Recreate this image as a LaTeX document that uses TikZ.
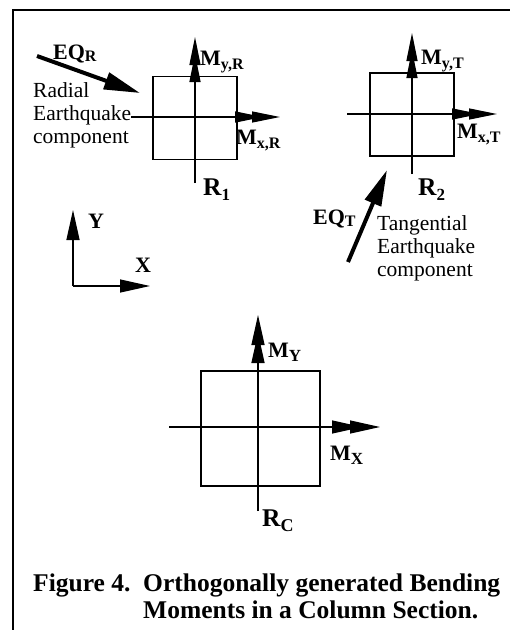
\documentclass[tikz,border=0pt]{standalone}
\usepackage{fontspec}
\setmainfont{Liberation Serif}
\usetikzlibrary{arrows.meta}
\newcommand{\lowered}[3]{\raisebox{-#2}{\fontsize{#1}{#1}\selectfont #3}}
\begin{document}
\begin{tikzpicture}[x=1pt,y=-1pt,
  frame/.style={line width=2pt},
  sect/.style={draw, line width=1.4pt, inner sep=0pt},
  mom/.style={line width=1.3pt,-{Triangle[length=28pt,width=11pt,sep=-11pt]Triangle[length=28pt,width=11pt]}},
  momb/.style={line width=1.3pt,-{Triangle[length=30pt,width=13pt,sep=-12pt]Triangle[length=30pt,width=13pt]}},
  quake/.style={line width=4pt,-{Triangle[length=36pt,width=17pt]}},
  axis/.style={line width=1.3pt,-{Triangle[length=30pt,width=13pt]}},
  lbl/.style={inner sep=0pt, anchor=base west, font=\bfseries\fontsize{22}{24}\selectfont},
  big/.style={inner sep=0pt, anchor=base west, font=\bfseries\fontsize{25.5}{27}\selectfont},
  note/.style={inner sep=0pt, anchor=base west, font=\fontsize{21.5}{23}\selectfont}]
\useasboundingbox (0,0) rectangle (510,630);
% frame
\coordinate (fbl) at (13,631);
\coordinate (ftl) at (13,10);
\coordinate (ftr) at (511,10);
\draw[frame] (fbl) -- (ftl) -- (ftr);
% ---- R1 (radial)
\node[sect, minimum width=84pt, minimum height=83pt] (s1) at (195,118) {};
\node[note] (rad1) at (33,97) {Radial};
\node[note] (rad2) at (33,120) {Earthquake};
\node[note] (rad3) at (33,143) {component};
\coordinate (v1b) at (195,183);
\coordinate (v1t) at (195,37);
\coordinate (h1r) at (280,117);
\draw[mom] (v1b) -- (v1t);
\draw[mom] (rad2.east |- h1r) -- (h1r);
\node[lbl] (myr) at (200,65) {M\lowered{16}{4pt}{y,R}};
\node[lbl] (mxr) at (236,144) {M\lowered{16}{4pt}{x,R}};
\node[big] (r1) at (203,195) {R\lowered{17}{5pt}{1}};
\node[lbl] (eqr) at (53,59) {EQ\lowered{16}{2pt}{R}};
\coordinate (eqrs) at (37,56);
\coordinate (eqre) at (140,93);
\draw[quake] (eqrs) -- (eqre);
% ---- R2 (tangential)
\node[sect, minimum width=84pt, minimum height=83pt] (s2) at (412,114.5) {};
\coordinate (v2b) at (412,174);
\coordinate (v2t) at (412,33);
\coordinate (h2l) at (347,114);
\coordinate (h2r) at (497,114);
\draw[mom] (v2b) -- (v2t);
\draw[mom] (h2l) -- (h2r);
\node[lbl] (myt) at (421,64) {M\lowered{16}{4pt}{y,T}};
\node[lbl] (mxt) at (457,138) {M\lowered{16}{4pt}{x,T}};
\node[big] (r2) at (418,195) {R\lowered{17}{5pt}{2}};
\node[lbl] (eqt) at (313,224) {EQ\lowered{16}{2pt}{T}};
\node[note] (tan1) at (377,230) {Tangential};
\node[note] (tan2) at (377,253) {Earthquake};
\node[note] (tan3) at (377,276) {component};
\coordinate (eqts) at (348,262);
\coordinate (eqte) at (387,170);
\draw[quake] (eqts) -- (eqte);
% ---- axes
\coordinate (o) at (73,286);
\coordinate (yt) at (73,210);
\coordinate (xt) at (150,286);
\draw[axis] (o) -- (yt);
\draw[axis] (o) -- (xt);
\node[lbl] (ylab) at (88,228) {Y};
\node[lbl] (xlab) at (135,272) {X};
% ---- RC (combined)
\node[sect, minimum width=119pt, minimum height=115pt] (sc) at (260.5,428.5) {};
\coordinate (vcb) at (258,511);
\coordinate (vct) at (258,315);
\coordinate (hcl) at (169,427);
\coordinate (hcr) at (380,427);
\draw[momb] (vcb) -- (vct);
\draw[momb] (hcl) -- (hcr);
\node[lbl] (my) at (268,357) {M\lowered{17}{4pt}{Y}};
\node[lbl] (mx) at (330,460) {M\lowered{17}{4pt}{X}};
\node[big] (rc) at (262,526) {R\lowered{18}{5pt}{C}};
% ---- caption
\node[big] (cap1) at (33,591) {Figure 4.\ \ Orthogonally generated Bending};
\node[big] (cap2) at (33,618) {\hphantom{Figure 4.\ \ }Moments in a Column Section.};
\end{tikzpicture}
\end{document}
